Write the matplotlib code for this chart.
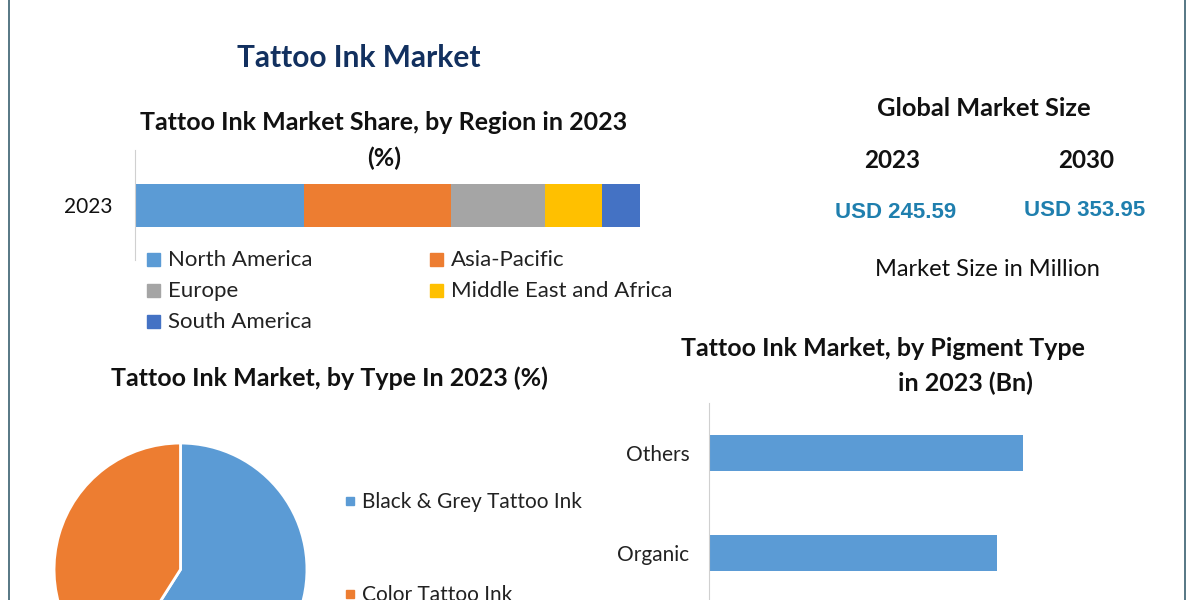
import matplotlib
matplotlib.use('Agg')
import matplotlib.pyplot as plt

W, H = 1200, 600

regions = ['North America', 'Asia-Pacific', 'Europe', 'Middle East and Africa', 'South America']
region_share = [33.5, 29.1, 18.6, 11.3, 7.5]
region_colors = ['#5B9BD5', '#ED7D31', '#A5A5A5', '#FFC000', '#4472C4']

ink_types = ['Black & Grey Tattoo Ink', 'Color Tattoo Ink']
ink_share = [59, 41]
ink_colors = ['#5B9BD5', '#ED7D31']

pigments = ['Organic', 'Others']
pigment_values = [2.88, 3.14]

plt.rcParams['font.family'] = ['Lato', 'DejaVu Sans']


def axes_px(fig, left, top, right, bottom):
    # position in pixels, y counted from the top like in the picture
    return fig.add_axes([left / W, 1 - bottom / H, (right - left) / W, (bottom - top) / H])


def label(x, y, s, size=15, weight='normal', color='#111111', ha='center', **kw):
    bg.text(x, y, s, fontsize=size, fontweight=weight, color=color, ha=ha, va='center', **kw)


fig = plt.figure(figsize=(12, 6), dpi=100, facecolor='white')

bg = fig.add_axes([0, 0, 1, 1])
bg.set_xlim(0, W)
bg.set_ylim(H, 0)
bg.axis('off')

# thin frame left and right
bg.axvline(9, color='#3A6070', lw=1.2)
bg.axvline(1185, color='#3A6070', lw=1.2)

label(359, 58, 'Tattoo Ink Market', size=21.5, weight='bold', color='#12305F')
label(384, 123, 'Tattoo Ink Market Share, by Region in 2023', size=18, weight='bold')
label(384, 158, '(%)', size=18, weight='bold')
label(329, 378, 'Tattoo Ink Market, by Type In 2023 (%)', size=18, weight='bold')
label(883, 349, 'Tattoo Ink Market, by Pigment Type', size=18, weight='bold')
label(965, 383, 'in 2023 (Bn)', size=18, weight='bold')

label(984, 109, 'Global Market Size', size=18.3, weight='bold')
label(892, 161, '2023', size=17.5, weight='bold')
label(1086, 161, '2030', size=17.5, weight='bold')
label(896, 213, 'USD 245.59', size=16, weight='bold', color='#1F7FAE', family='Liberation Sans')
label(1085, 211, 'USD 353.95', size=16, weight='bold', color='#1F7FAE', family='Liberation Sans')
label(987, 270, 'Market Size in Million', size=17)

# stacked region bar
ax = axes_px(fig, 135, 150, 640, 260)
left = 0
for share, color in zip(region_share, region_colors):
    ax.barh(['2023'], [share], left=left, height=43 / 110, color=color)
    left += share
ax.set_xlim(0, sum(region_share))
ax.set_ylim(-0.5, 0.5)
for s in ['top', 'right', 'bottom']:
    ax.spines[s].set_visible(False)
ax.spines['left'].set_color('#D0D0D0')
ax.set_xticks([])
ax.tick_params(axis='y', length=0, labelsize=15, pad=16, labelcolor='#111111')
ax.patch.set_alpha(0)

# legend of the region bar, laid out by hand like the original
legend_pos = [(147, 259), (430, 259), (147, 290), (430, 290), (147, 321)]
for name, color, (x, y) in zip(regions, region_colors, legend_pos):
    bg.add_patch(plt.Rectangle((x, y - 6.5), 13, 13, color=color))
    label(x + 21, y + 1, name, size=16, ha='left', color='#222222')

# pie, runs off the bottom of the picture
ax = axes_px(fig, 40, 429, 321, 710)
ax.pie(ink_share, colors=ink_colors, startangle=90, counterclock=False, radius=0.9,
       wedgeprops={'edgecolor': 'white', 'linewidth': 2})
ax.set_xlim(-1, 1)
ax.set_ylim(-1, 1)

for name, color, y in zip(ink_types, ink_colors, [501, 594]):
    bg.add_patch(plt.Rectangle((346, y - 4), 8, 8, color=color))
    label(362, y + 1, name, size=15, ha='left', color='#222222')

# pigment bars, third one is cut off by the picture edge
ax = axes_px(fig, 709, 403, 1180, 603)
ax.barh(pigments, pigment_values, height=0.36, color='#5B9BD5')
ax.set_xlim(0, 4.71)
ax.set_ylim(-0.5, 1.5)
for s in ['top', 'right', 'bottom']:
    ax.spines[s].set_visible(False)
ax.spines['left'].set_color('#D0D0D0')
ax.set_xticks([])
ax.tick_params(axis='y', length=0, labelsize=15, pad=14, labelcolor='#222222')
ax.patch.set_alpha(0)

fig.savefig('out.png', dpi=100)
